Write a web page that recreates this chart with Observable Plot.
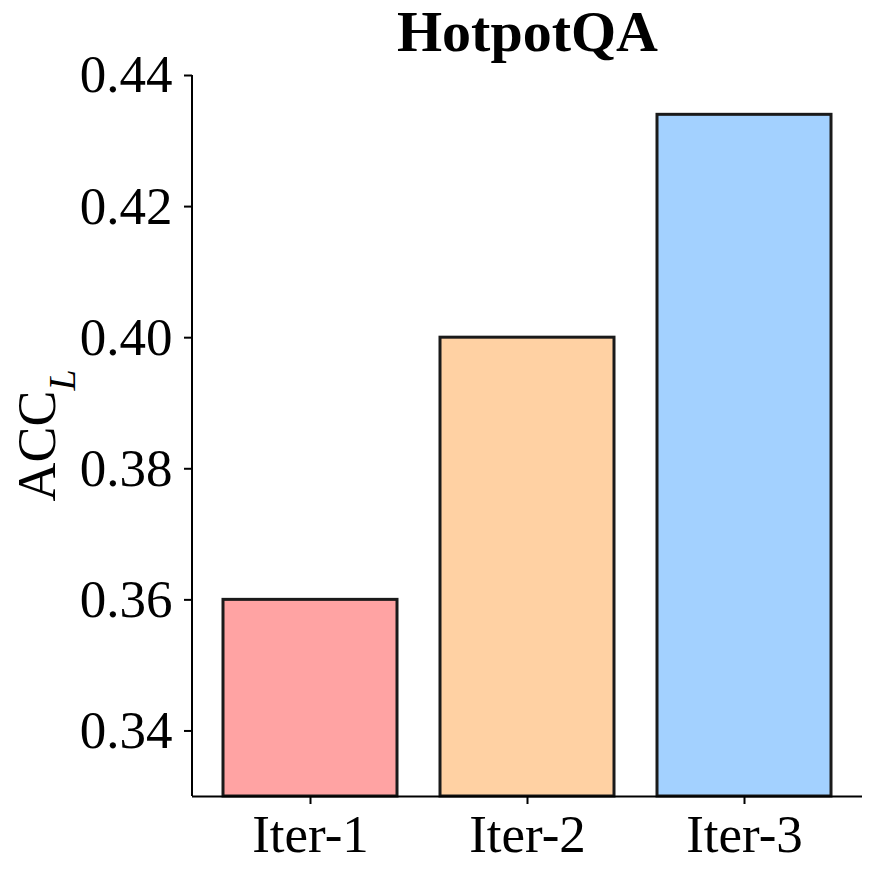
<!DOCTYPE html>
<html>
<head>
<meta charset="utf-8">
<script src="https://cdn.jsdelivr.net/npm/d3@7"></script>
<script src="https://cdn.jsdelivr.net/npm/@observablehq/plot@0.6"></script>
<style>
  html, body { margin: 0; padding: 0; background: #fff; }
  #chart svg { display: block; }
</style>
</head>
<body>
<div id="chart"></div>
<script>
const categories = ["Iter-1", "Iter-2", "Iter-3"];
const values = [0.360, 0.400, 0.434];
const colors = ["#FFA3A3", "#FFD1A3", "#A3D1FF"];
const yTicks = [0.34, 0.36, 0.38, 0.40, 0.42, 0.44];
const yDomain = [0.33, 0.44];
const title = "HotpotQA";
const yLabelMain = "ACC";
const yLabelSub = "L";

const data = categories.map((c, i) => ({cat: c, value: values[i], color: colors[i]}));
const font = "'Liberation Serif', 'Times New Roman', serif";

const W = 880, H = 882;
const mTop = 75, mBottom = 86, mLeft = 192, mRight = 18;

const plot = Plot.plot({
  width: W,
  height: H,
  marginTop: mTop,
  marginBottom: mBottom,
  marginLeft: mLeft,
  marginRight: mRight,
  style: {fontFamily: font, fontSize: "53px", color: "#000", background: "#fff", overflow: "visible"},
  x: {domain: categories, paddingInner: 0.2, paddingOuter: 0.14, label: null},
  y: {domain: yDomain, label: null},
  marks: [
    Plot.barY(data, {x: "cat", y1: yDomain[0], y2: "value", fill: "color", stroke: "#1a1a1a", strokeWidth: 3}),
    Plot.axisY({ticks: yTicks, tickFormat: d3.format(".2f"), tickSize: 8, tickPadding: 12, strokeWidth: 2, fontSize: 53, label: null}),
    Plot.axisX({tickSize: 8, tickPadding: 10, strokeWidth: 2, fontSize: 53, label: null}),
    Plot.ruleY([yDomain[0]], {stroke: "#000", strokeWidth: 2}),
    Plot.text([title], {frameAnchor: "top", lineAnchor: "bottom", dy: -25, fontSize: 58, fontWeight: "bold", fill: "#000"})
  ]
});

document.getElementById("chart").appendChild(plot);

const svg = d3.select(plot);
const yr = plot.scale("y").range;
// left spine
svg.append("line")
  .attr("x1", mLeft).attr("x2", mLeft)
  .attr("y1", Math.min(...yr)).attr("y2", Math.max(...yr))
  .attr("stroke", "#000").attr("stroke-width", 2);
// y label with subscript
const cy = (yr[0] + yr[1]) / 2;
const t = svg.append("text")
  .attr("transform", `translate(55,${cy}) rotate(-90)`)
  .attr("text-anchor", "middle")
  .attr("font-family", font)
  .attr("font-size", 54)
  .attr("fill", "#000");
t.append("tspan").text(yLabelMain);
t.append("tspan").attr("font-style", "italic").attr("font-size", 38).attr("dy", 20).text(yLabelSub);
</script>
</body>
</html>
